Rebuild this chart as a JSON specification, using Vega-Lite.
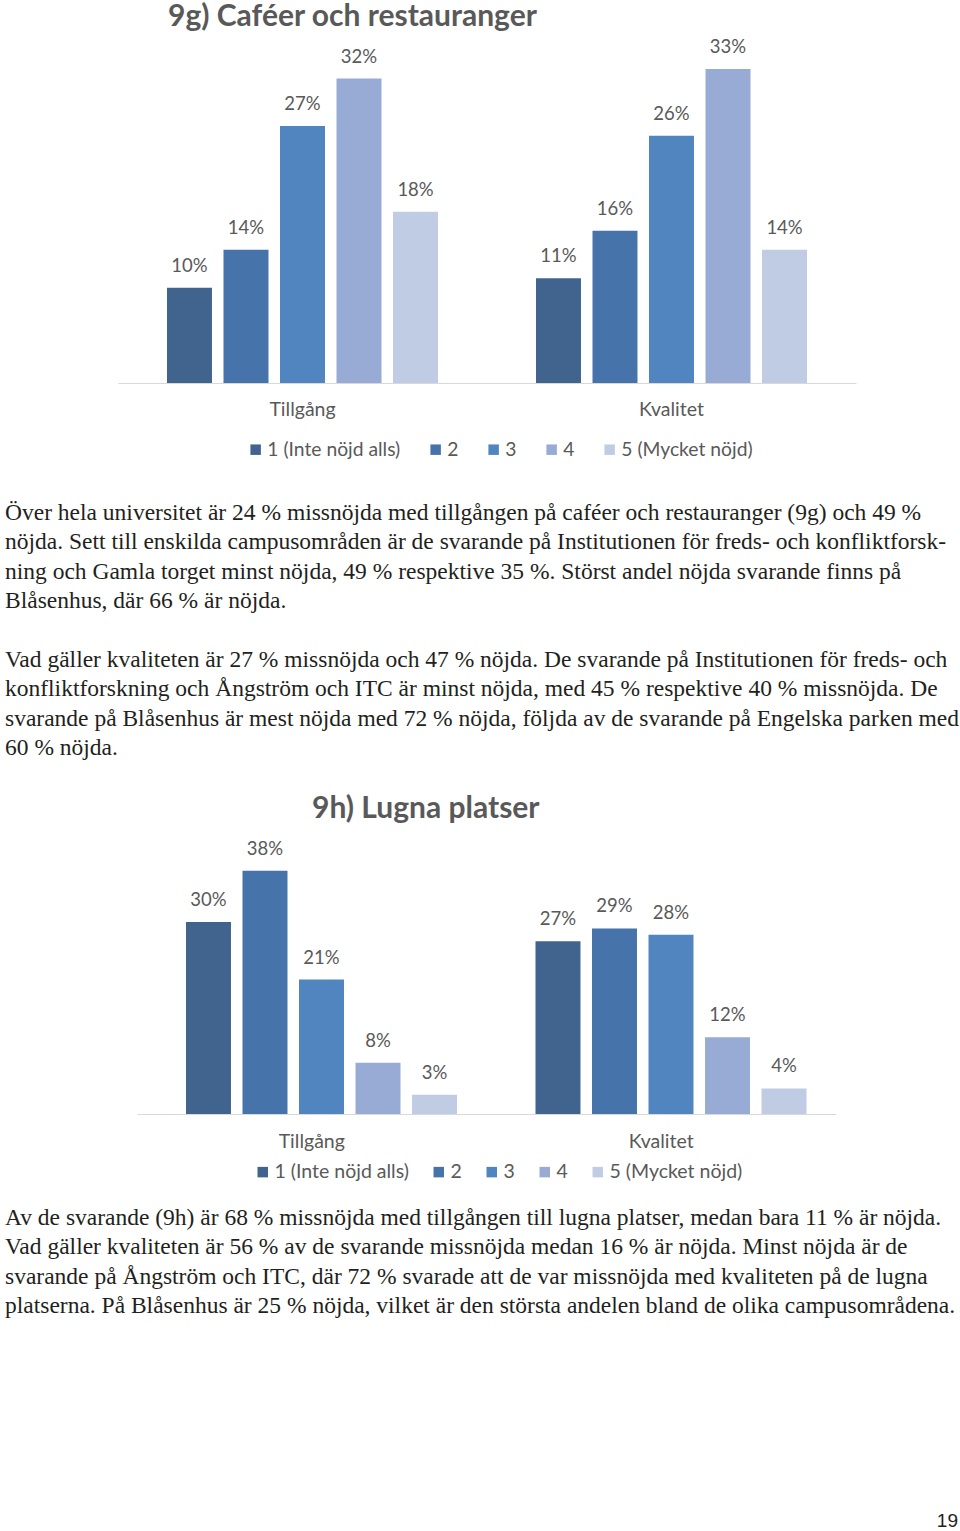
{
  "$schema": "https://vega.github.io/schema/vega-lite/v6.json",
  "background": "white",
  "padding": {"top": 2, "left": 0, "right": 0, "bottom": 0},
  "spacing": 0,
  "bounds": "flush",
  "resolve": {"scale": {"color": "independent"}, "legend": {"color": "independent"}},
  "config": {
    "view": {"stroke": null},
    "axis": {"grid": false},
    "font": "Lato"
  },
  "vconcat": [
    {
      "width": 960,
      "height": 333,
      "title": {"text": "9g) Caféer och restauranger", "anchor": "start", "frame": "group", "dx": 168, "offset": 6, "fontSize": 30, "font": "Lato", "fontWeight": "bold", "color": "#595959"},
      "data": {"values": [
        {"aspect": "Tillgång", "rating": "1 (Inte nöjd alls)", "share": 0.10},
        {"aspect": "Tillgång", "rating": "2", "share": 0.14},
        {"aspect": "Tillgång", "rating": "3", "share": 0.27},
        {"aspect": "Tillgång", "rating": "4", "share": 0.32},
        {"aspect": "Tillgång", "rating": "5 (Mycket nöjd)", "share": 0.18},
        {"aspect": "Kvalitet", "rating": "1 (Inte nöjd alls)", "share": 0.11},
        {"aspect": "Kvalitet", "rating": "2", "share": 0.16},
        {"aspect": "Kvalitet", "rating": "3", "share": 0.26},
        {"aspect": "Kvalitet", "rating": "4", "share": 0.33},
        {"aspect": "Kvalitet", "rating": "5 (Mycket nöjd)", "share": 0.14}
      ]},
      "encoding": {
        "x": {"field": "aspect", "type": "nominal", "sort": ["Tillgång", "Kvalitet"],
              "scale": {"range": [118, 856], "paddingInner": 0, "paddingOuter": 0},
              "axis": {"title": null, "labelAngle": 0, "ticks": false, "domainColor": "#d9d9d9", "domainWidth": 1, "labelFontSize": 19.5, "labelColor": "#595959", "labelPadding": 17, "labelFont": "Lato"}},
        "xOffset": {"field": "rating", "type": "nominal", "scale": {"paddingInner": 0.204, "paddingOuter": 0.867}},
        "y": {"field": "share", "type": "quantitative", "scale": {"domain": [0, 0.35]}, "axis": null}
      },
      "layer": [
        {
          "mark": {"type": "bar"},
          "encoding": {
            "color": {"field": "rating", "type": "nominal",
                      "scale": {"domain": ["1 (Inte nöjd alls)", "2", "3", "4", "5 (Mycket nöjd)"], "range": ["#41648f", "#4673a9", "#5185c0", "#97abd4", "#c0cce4"]},
                      "legend": {"orient": "none", "legendX": 246, "legendY": 390, "direction": "horizontal", "title": null, "padding": 0, "symbolType": "square", "symbolSize": 110, "symbolStrokeWidth": 0, "labelFontSize": 19.3, "labelColor": "#595959", "labelFont": "Lato", "columnPadding": 25, "labelOffset": 2}}
          }
        },
        {
          "mark": {"type": "text", "baseline": "alphabetic", "dy": -16, "fontSize": 18.5, "color": "#595959", "font": "Lato"},
          "encoding": {"text": {"field": "share", "type": "quantitative", "format": ".0%"}}
        }
      ]
    },
    {
      "width": 960,
      "height": 475,
      "data": {"values": [
        {"line": 0, "text": "Över hela universitet är 24 % missnöjda med tillgången på caféer och restauranger (9g) och 49 %"},
        {"line": 1, "text": "nöjda. Sett till enskilda campusområden är de svarande på Institutionen för freds- och konfliktforsk-"},
        {"line": 2, "text": "ning och Gamla torget minst nöjda, 49 % respektive 35 %. Störst andel nöjda svarande finns på"},
        {"line": 3, "text": "Blåsenhus, där 66 % är nöjda."},
        {"line": 5, "text": "Vad gäller kvaliteten är 27 % missnöjda och 47 % nöjda. De svarande på Institutionen för freds- och"},
        {"line": 6, "text": "konfliktforskning och Ångström och ITC är minst nöjda, med 45 % respektive 40 % missnöjda. De"},
        {"line": 7, "text": "svarande på Blåsenhus är mest nöjda med 72 % nöjda, följda av de svarande på Engelska parken med"},
        {"line": 8, "text": "60 % nöjda."}
      ]},
      "mark": {"type": "text", "align": "left", "baseline": "middle", "font": "Liberation Serif", "fontSize": 23.5, "color": "#231f20"},
      "encoding": {
        "x": {"value": 5},
        "y": {"field": "line", "type": "quantitative", "scale": {"domain": [0, 8], "range": [130, 365.2]}, "axis": null},
        "text": {"field": "text"}
      }
    },
    {
      "width": 960,
      "height": 256,
      "title": {"text": "9h) Lugna platser", "anchor": "start", "frame": "group", "dx": 312, "offset": 16, "fontSize": 30, "font": "Lato", "fontWeight": "bold", "color": "#595959"},
      "data": {"values": [
        {"aspect": "Tillgång", "rating": "1 (Inte nöjd alls)", "share": 0.30},
        {"aspect": "Tillgång", "rating": "2", "share": 0.38},
        {"aspect": "Tillgång", "rating": "3", "share": 0.21},
        {"aspect": "Tillgång", "rating": "4", "share": 0.08},
        {"aspect": "Tillgång", "rating": "5 (Mycket nöjd)", "share": 0.03},
        {"aspect": "Kvalitet", "rating": "1 (Inte nöjd alls)", "share": 0.27},
        {"aspect": "Kvalitet", "rating": "2", "share": 0.29},
        {"aspect": "Kvalitet", "rating": "3", "share": 0.28},
        {"aspect": "Kvalitet", "rating": "4", "share": 0.12},
        {"aspect": "Kvalitet", "rating": "5 (Mycket nöjd)", "share": 0.04}
      ]},
      "encoding": {
        "x": {"field": "aspect", "type": "nominal", "sort": ["Tillgång", "Kvalitet"],
              "scale": {"range": [137, 836], "paddingInner": 0, "paddingOuter": 0},
              "axis": {"title": null, "labelAngle": 0, "ticks": false, "domainColor": "#d9d9d9", "domainWidth": 1, "labelFontSize": 19.5, "labelColor": "#595959", "labelPadding": 18, "labelFont": "Lato"}},
        "xOffset": {"field": "rating", "type": "nominal", "scale": {"paddingInner": 0.206, "paddingOuter": 0.87}},
        "y": {"field": "share", "type": "quantitative", "scale": {"domain": [0, 0.40]}, "axis": null}
      },
      "layer": [
        {
          "mark": {"type": "bar"},
          "encoding": {
            "color": {"field": "rating", "type": "nominal",
                      "scale": {"domain": ["1 (Inte nöjd alls)", "2", "3", "4", "5 (Mycket nöjd)"], "range": ["#41648f", "#4673a9", "#5185c0", "#97abd4", "#c0cce4"]},
                      "legend": {"orient": "none", "legendX": 253, "legendY": 304, "direction": "horizontal", "title": null, "padding": 0, "symbolType": "square", "symbolSize": 110, "symbolStrokeWidth": 0, "labelFontSize": 19.5, "labelColor": "#595959", "labelFont": "Lato", "columnPadding": 20, "labelOffset": 2}}
          }
        },
        {
          "mark": {"type": "text", "baseline": "alphabetic", "dy": -16, "fontSize": 18.5, "color": "#595959", "font": "Lato"},
          "encoding": {"text": {"field": "share", "type": "quantitative", "format": ".0%"}}
        }
      ]
    },
    {
      "width": 960,
      "height": 398,
      "title": {"text": "19", "orient": "bottom", "anchor": "end", "frame": "group", "offset": 0, "dx": -2, "fontSize": 19, "font": "Liberation Sans", "fontWeight": "normal", "color": "#231f20"},
      "data": {"values": [
        {"line": 0, "text": "Av de svarande (9h) är 68 % missnöjda med tillgången till lugna platser, medan bara 11 % är nöjda."},
        {"line": 1, "text": "Vad gäller kvaliteten är 56 % av de svarande missnöjda medan 16 % är nöjda. Minst nöjda är de"},
        {"line": 2, "text": "svarande på Ångström och ITC, där 72 % svarade att de var missnöjda med kvaliteten på de lugna"},
        {"line": 3, "text": "platserna. På Blåsenhus är 25 % nöjda, vilket är den största andelen bland de olika campusområdena."}
      ]},
      "mark": {"type": "text", "align": "left", "baseline": "middle", "font": "Liberation Serif", "fontSize": 23.5, "color": "#231f20"},
      "encoding": {
        "x": {"value": 5},
        "y": {"field": "line", "type": "quantitative", "scale": {"domain": [0, 3], "range": [104, 192.2]}, "axis": null},
        "text": {"field": "text"}
      }
    }
  ]
}
